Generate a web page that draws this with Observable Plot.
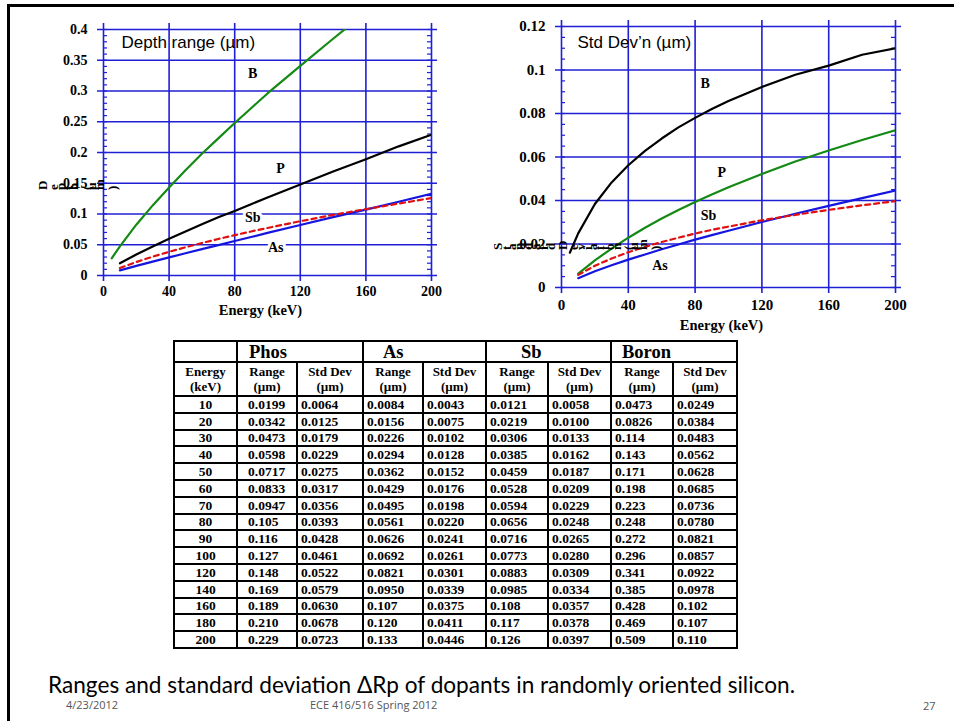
<!DOCTYPE html>
<html><head><meta charset="utf-8">
<script src="https://cdn.jsdelivr.net/npm/d3@7"></script>
<script src="https://cdn.jsdelivr.net/npm/@observablehq/plot@0.6"></script>
<style>
html,body{margin:0;padding:0;background:#fff}
body{width:954px;height:721px;position:relative;overflow:hidden}
#frameTop{position:absolute;left:7px;top:4px;width:947px;height:3px;background:#000}
#frameLeft{position:absolute;left:7px;top:4px;width:3px;height:717px;background:#000}
#left{position:absolute;left:0;top:0}
#right{position:absolute;left:480px;top:0}
#overlay{position:absolute;left:0;top:0;pointer-events:none}
#tbl{position:absolute;left:173px;top:340px;border-collapse:collapse;table-layout:fixed;
  font-family:"Liberation Serif",serif;font-weight:bold;font-size:13.5px;color:#000}
#tbl td{border:2px solid #000;padding:0 0 0 3px;white-space:nowrap;line-height:13px;overflow:hidden}
#tbl tr.h1 td{height:19px;font-size:18.5px;line-height:18px}
#tbl tr.h2 td{height:32px;text-align:center;padding:0;font-size:13px;line-height:15px}
#tbl tr.d td{height:14.8px}
#tbl td.e{text-align:center;padding:0}
#tbl td.pr{padding-left:10px}
#bottom{position:absolute;left:0;top:660px}
</style></head>
<body>
<div id="frameTop"></div><div id="frameLeft"></div>
<div id="left"></div><div id="right"></div>
<svg id="overlay" width="954" height="340"></svg>
<table id="tbl"></table>
<svg id="bottom" width="954" height="61"></svg>
<script>
// ---------- data ----------
const energies = [10,20,30,40,50,60,70,80,90,100,120,140,160,180,200];
const phosRange = [0.0199,0.0342,0.0473,0.0598,0.0717,0.0833,0.0947,0.105,0.116,0.127,0.148,0.169,0.189,0.210,0.229];
const phosStd   = [0.0064,0.0125,0.0179,0.0229,0.0275,0.0317,0.0356,0.0393,0.0428,0.0461,0.0522,0.0579,0.0630,0.0678,0.0723];
const asRange   = [0.0084,0.0156,0.0226,0.0294,0.0362,0.0429,0.0495,0.0561,0.0626,0.0692,0.0821,0.0950,0.107,0.120,0.133];
const asStd     = [0.0043,0.0075,0.0102,0.0128,0.0152,0.0176,0.0198,0.0220,0.0241,0.0261,0.0301,0.0339,0.0375,0.0411,0.0446];
const sbRange   = [0.0121,0.0219,0.0306,0.0385,0.0459,0.0528,0.0594,0.0656,0.0716,0.0773,0.0883,0.0985,0.108,0.117,0.126];
const sbStd     = [0.0058,0.0100,0.0133,0.0162,0.0187,0.0209,0.0229,0.0248,0.0265,0.0280,0.0309,0.0334,0.0357,0.0378,0.0397];
const boronRange= [0.0473,0.0826,0.114,0.143,0.171,0.198,0.223,0.248,0.272,0.296,0.341,0.385,0.428,0.469,0.509];
const boronStd  = [0.0249,0.0384,0.0483,0.0562,0.0628,0.0685,0.0736,0.0780,0.0821,0.0857,0.0922,0.0978,0.102,0.107,0.110];
// boron curves in the charts start a little below 10 keV
const boronStartEnergy = 5;
const boronStartRange = 0.028;
const boronStartStd = 0.016;

const dopantNames = ["Phos","As","Sb","Boron"];
const colHeads = ["Range","Std Dev"];

const rangeTicksY = [0,0.05,0.1,0.15,0.2,0.25,0.3,0.35,0.4];
const stdTicksY = [0,0.02,0.04,0.06,0.08,0.1,0.12];
const energyTicks = [0,40,80,120,160,200];

// chart label anchors (energy, value)
const rangeLabels = [
  {t:"B", e:91, v:0.328},{t:"P", e:108, v:0.174},{t:"Sb", e:91, v:0.094},{t:"As", e:105, v:0.0455}];
const stdLabels = [
  {t:"B", e:86, v:0.0938},{t:"P", e:96, v:0.0529},{t:"Sb", e:88, v:0.0331},{t:"As", e:59, v:0.0101}];

// ---------- helpers ----------
const pts = (xs, ys) => xs.map((x,i)=>({x, y: ys[i]}));
const GRID = "#1f1fd6";
const fmt = d => d === 0 ? "0" : String(+d.toFixed(3));

function makeChart(o){
  const {width,height,mt,mr,mb,ml,yMax,yTicks,minorStep,series,labels,title,tdx,tdy,tickFont,padY,padX,xlabDy} = o;
  const extY = yMax*6/(height-mt-mb), extX = 200*6/(width-ml-mr);
  const tickX = 200*4/(width-ml-mr);
  const minor = d3.range(0, yMax+1e-9, minorStep).map(v=>+v.toFixed(4));
  const marks = [
    Plot.ruleX(energyTicks,{y1:-extY, y2:yMax+extY, stroke:GRID, strokeWidth:1.6}),
    Plot.ruleY(yTicks,{x1:-extX, x2:200+extX, stroke:GRID, strokeWidth:1.6}),
    Plot.ruleY(minor,{x1:0, x2:tickX, stroke:GRID, strokeWidth:1.2}),
    Plot.ruleY(minor,{x1:200-tickX, x2:200, stroke:GRID, strokeWidth:1.2}),
    ...series.map(s=>Plot.line(s.data,{x:"x",y:"y",stroke:s.color,strokeWidth:2.2,strokeDasharray:s.dash,clip:true})),
    Plot.text(labels,{x:"e",y:"v",text:"t",fill:"#000",stroke:"#fff",strokeWidth:6,
      fontSize:14,fontWeight:"bold",fontFamily:"Liberation Serif",textAnchor:"middle",lineAnchor:"middle"}),
    Plot.text([title],{frameAnchor:"top-left",dx:tdx,dy:tdy,textAnchor:"start",lineAnchor:"top",
      fontSize:17,fontFamily:"Liberation Sans",fontWeight:"normal",fill:"#000"}),
    Plot.axisY(yTicks,{tickSize:0,tickPadding:padY,tickFormat:fmt,fontSize:tickFont,fontWeight:"bold",fontFamily:"Liberation Serif",label:null,fill:"#000"}),
    Plot.axisX(energyTicks,{tickSize:0,tickPadding:padX,fontSize:tickFont,fontWeight:"bold",fontFamily:"Liberation Serif",label:null,fill:"#000"}),
    Plot.text(["Energy (keV)"],{frameAnchor:"bottom",dy:xlabDy,dx:-7,lineAnchor:"middle",
      fontSize:14.5,fontWeight:"bold",fontFamily:"Liberation Serif",fill:"#000"})
  ];
  return Plot.plot({width,height,marginTop:mt,marginRight:mr,marginBottom:mb,marginLeft:ml,
    x:{domain:[0,200]}, y:{domain:[0,yMax]},
    style:{fontFamily:"Liberation Serif",background:"transparent",color:"#000",overflow:"visible"},
    marks});
}

// garbled (per-glyph rotated) axis title, as in the original slide:
// each glyph is turned a quarter turn but the glyphs still advance horizontally
const overlay = d3.select("#overlay");
function rotatedLabel(x0, x1, baseY, txt, size){
  const g = overlay.append("g")
    .attr("font-size",size).attr("font-weight","bold").attr("font-family","Liberation Serif").attr("fill","#000");
  const chars = Array.from(txt);
  const widths = chars.map(c=>{
    const t = g.append("text").attr("x",0).attr("y",0).text(c === " " ? "\u00a0" : c);
    const w = t.node().getComputedTextLength(); t.remove(); return w;
  });
  const total = d3.sum(widths);
  const asc = size*0.7;
  const k = (x1 - x0 - asc) / total;
  let acc = 0;
  chars.forEach((c,i)=>{
    const px = x0 + asc + acc*k;
    acc += widths[i];
    if (c === " ") return;
    g.append("text").attr("transform",`translate(${px.toFixed(1)},${baseY}) rotate(-90)`).text(c);
  });
}

// ---------- left chart ----------
const leftSvg = makeChart({width:470,height:330,mt:29,mr:39,mb:55,ml:103,yMax:0.4,yTicks:rangeTicksY,minorStep:0.01,
  series:[
    {data:[{x:boronStartEnergy,y:boronStartRange},...pts(energies,boronRange)],color:"#148a14"},
    {data:pts(energies,phosRange),color:"#000"},
    {data:pts(energies,asRange),color:"#1515e0"},
    {data:pts(energies,sbRange),color:"#e01010",dash:"5,4"}],
  labels:rangeLabels,title:"Depth range (µm)",tdx:18,tdy:6,tickFont:14,padY:16,padX:11,xlabDy:35});
document.getElementById("left").appendChild(leftSvg);

// ---------- right chart ----------
const rightSvg = makeChart({width:474,height:340,mt:26,mr:59,mb:53,ml:81,yMax:0.12,yTicks:stdTicksY,minorStep:0.005,
  series:[
    {data:[{x:boronStartEnergy,y:boronStartStd},...pts(energies,boronStd)],color:"#000"},
    {data:pts(energies,phosStd),color:"#148a14"},
    {data:pts(energies,asStd),color:"#1515e0"},
    {data:pts(energies,sbStd),color:"#e01010",dash:"5,4"}],
  labels:stdLabels,title:"Std Dev’n (µm)",tdx:16,tdy:9,tickFont:15,padY:16,padX:12,xlabDy:38});
document.getElementById("right").appendChild(rightSvg);

rotatedLabel(38, 122, 190, "Depth (µm)", 13);
rotatedLabel(493, 665, 250, "Standard Deviation (µm)", 13);

// ---------- table ----------
const tbl = d3.select("#tbl");
const colW = [63,60,66,60,63,62,63,62,64];
const cg = tbl.append("colgroup");
colW.forEach(w=>cg.append("col").style("width",w+"px"));
const h1 = tbl.append("tr").attr("class","h1");
h1.append("td");
const headPad = [11,19,34,10];
dopantNames.forEach((n,i)=>h1.append("td").attr("colspan",2).style("padding-left",headPad[i]+"px").text(n));
const h2 = tbl.append("tr").attr("class","h2");
h2.append("td").html("Energy<br>(keV)");
dopantNames.forEach(()=>colHeads.forEach(c=>h2.append("td").html(c+"<br>(µm)")));
const cols = [phosRange,phosStd,asRange,asStd,sbRange,sbStd,boronRange,boronStd];
const cellFmt = v => v < 0.1 ? v.toFixed(4) : v.toFixed(3);
energies.forEach((e,i)=>{
  const r = tbl.append("tr").attr("class","d");
  r.append("td").attr("class","e").text(e);
  cols.forEach((c,j)=>r.append("td").attr("class", j===0?"pr":null).text(cellFmt(c[i])));
});

// ---------- caption & footer ----------
const b = d3.select("#bottom");
b.append("text").attr("x",48).attr("y",33).attr("textLength",747).attr("lengthAdjust","spacingAndGlyphs")
  .attr("font-family","Lato").attr("font-size",22.5).attr("fill","#000")
  .text("Ranges and standard deviation ΔRp of dopants in randomly oriented silicon.");
b.append("text").attr("x",66).attr("y",49).attr("font-family","Open Sans").attr("font-size",11).attr("fill","#555").text("4/23/2012");
b.append("text").attr("x",310).attr("y",49).attr("font-family","Open Sans").attr("font-size",11).attr("fill","#555").text("ECE 416/516 Spring 2012");
b.append("text").attr("x",923).attr("y",50).attr("font-family","Open Sans").attr("font-size",11).attr("fill","#555").text("27");
</script>
</body></html>
